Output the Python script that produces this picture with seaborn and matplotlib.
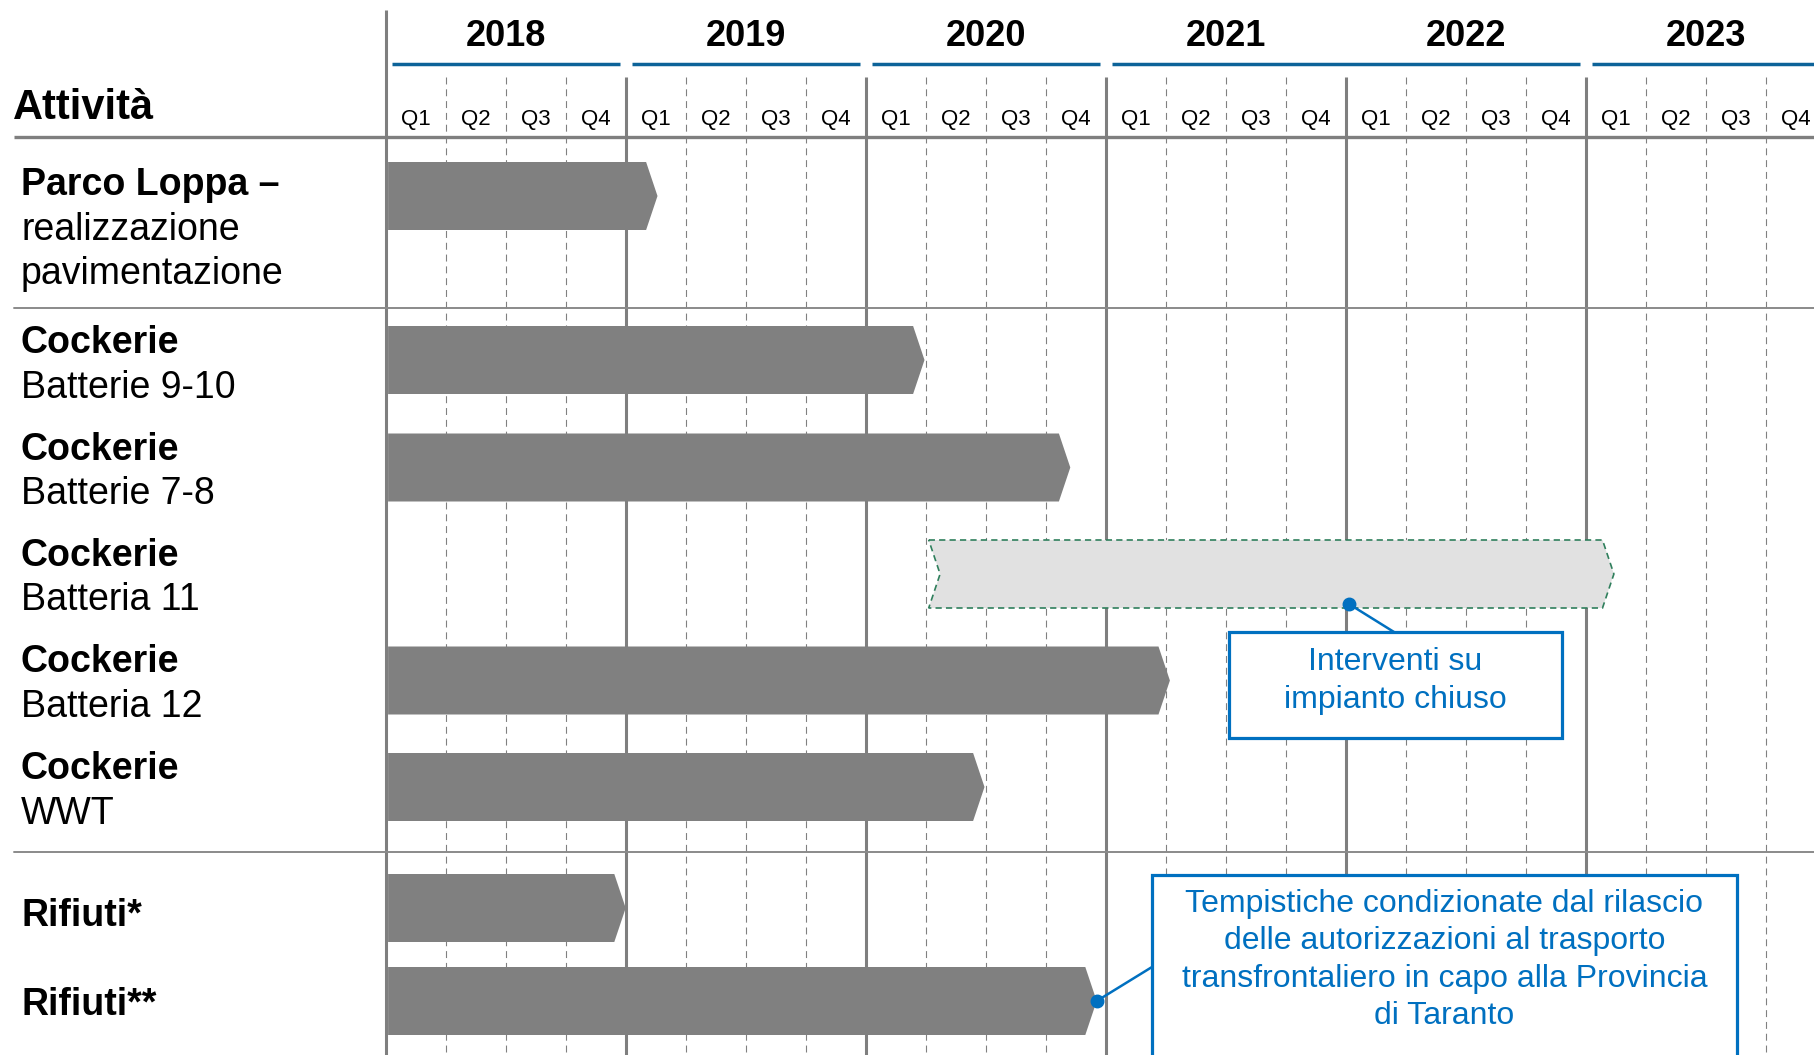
import numpy as np
import pandas as pd
import matplotlib.pyplot as plt
import seaborn as sns
from matplotlib.patches import Polygon, Rectangle

# %% data
years = ['2018', '2019', '2020', '2021', '2022', '2023']
quarters = ['Q1', 'Q2', 'Q3', 'Q4']

titles = ['Parco Loppa –', 'Cockerie', 'Cockerie', 'Cockerie',
          'Cockerie', 'Cockerie', 'Rifiuti*', 'Rifiuti**']
subtitles = ['realizzazione\npavimentazione', 'Batterie 9-10', 'Batterie 7-8',
             'Batteria 11', 'Batteria 12', 'WWT', '', '']
# quarters counted from the start of 2018 Q1
start_q = [0, 0, 0, 9.05, 0, 0, 0, 0]
end_q = [4.53, 8.98, 11.41, 20.47, 13.07, 9.98, 4.0, 11.85]
closed_plant = [False, False, False, True, False, False, False, False]

note_closed = 'Interventi su\nimpianto chiuso'
note_waste = ('Tempistiche condizionate dal rilascio\ndelle autorizzazioni al trasporto\n'
              'transfrontaliero in capo alla Provincia\ndi Taranto')

# %% layout (y in pixels from top, x in quarters)
W, H = 1814, 1055
X_ORIGIN, Q_PX = 385.7, 60.0
def px2q(px):
    return (px - X_ORIGIN) / Q_PX

row_y = [196, 360, 467.5, 574, 680.5, 787, 908, 1001]
label_y = [182, 340, 447, 553, 659.5, 766, 913, 1002]
BAR_H = 68
TIP = 0.19
LINE_PX = 44.5

GRAY = '#7f7f7f'
BLUE = '#0070c0'
YEAR_BLUE = '#0d6399'

sns.set_theme(style='white')
plt.rcParams['font.family'] = ['Liberation Sans', 'DejaVu Sans']
plt.rcParams['lines.scale_dashes'] = False

fig = plt.figure(figsize=(W / 100, H / 100), dpi=100, facecolor='white')
ax = fig.add_axes([0, 0, 1, 1])
ax.set_xlim(px2q(0), px2q(W))
ax.set_ylim(H, 0)
ax.axis('off')

n_q = len(years) * len(quarters)

# grid
ax.plot([0, 0], [10, H], color=GRAY, lw=2.2, zorder=1, solid_capstyle='butt')
for q in range(1, n_q):
    if q % 4 == 0:
        ax.plot([q, q], [77, H], color=GRAY, lw=2.2, zorder=1, solid_capstyle='butt')
    else:
        ax.plot([q, q], [77, H], color='#808080', lw=0.8, ls=(0, (5, 3.5)), zorder=1)

ax.plot([px2q(14), px2q(W)], [137, 137], color=GRAY, lw=2.4, zorder=2, solid_capstyle='butt')
for ys in [308, 851.5]:
    ax.plot([px2q(14), px2q(W)], [ys, ys], color='#8a8a8a', lw=1.4, zorder=2)

# year header
year_segments = [(0.1, 3.9), (4.1, 7.9), (8.1, 11.9), (12.1, 19.9), (20.1, 24.5)]
for a, b in year_segments:
    ax.plot([a, b], [64, 64], color=YEAR_BLUE, lw=2.5, solid_capstyle='butt', zorder=2)
for i, yr in enumerate(years):
    ax.text(i * 4 + 2, 46, yr, ha='center', va='baseline', fontsize=26, fontweight='bold', color='black')
    for j, ql in enumerate(quarters):
        ax.text(i * 4 + j + 0.5, 125, ql, ha='center', va='baseline', fontsize=16, color='black')

ax.text(px2q(13), 119, 'Attività', ha='left', va='baseline', fontsize=30, fontweight='bold', color='black')

# bars
for s, e, yc, closed in zip(start_q, end_q, row_y, closed_plant):
    top, bot = yc - BAR_H / 2, yc + BAR_H / 2
    if closed:
        pts = [(s, top), (e - TIP, top), (e, yc), (e - TIP, bot), (s, bot), (s + TIP, yc)]
        ax.add_patch(Polygon(pts, closed=True, facecolor='#e1e1e1', edgecolor='#2f7f5c',
                             lw=1.2, ls=(0, (4.5, 3)), zorder=3))
    else:
        pts = [(s + 0.04, top), (e - TIP, top), (e, yc), (e - TIP, bot), (s + 0.04, bot)]
        ax.add_patch(Polygon(pts, closed=True, facecolor='#808080', edgecolor='none', zorder=3))

# row labels
lx = px2q(21)
for t, sub, ly in zip(titles, subtitles, label_y):
    ax.text(lx, ly + 13, t, ha='left', va='baseline', fontsize=27, fontweight='bold', color='black')
    for k, line in enumerate(sub.split('\n') if sub else []):
        ax.text(lx, ly + LINE_PX * (k + 1) + 13, line, ha='left', va='baseline',
                fontsize=27, color='black')

# callout: closed plant
b1 = (px2q(1229), 632, px2q(1562), 738)
ax.add_patch(Rectangle((b1[0], b1[1]), b1[2] - b1[0], b1[3] - b1[1], facecolor='white',
                       edgecolor=BLUE, lw=2.3, zorder=4))
ax.text((b1[0] + b1[2]) / 2, 681, note_closed, ha='center', va='center', fontsize=23,
        color=BLUE, zorder=6, linespacing=1.32)
dot1 = (px2q(1349), row_y[3] + BAR_H / 2 - 4)
ax.plot([dot1[0], px2q(1394)], [dot1[1], 632], color=BLUE, lw=1.8, zorder=5)
ax.plot(*dot1, 'o', color=BLUE, ms=9, zorder=5)

# callout: waste transport
b2 = (px2q(1152), 875, px2q(1737), 1080)
ax.add_patch(Rectangle((b2[0], b2[1]), b2[2] - b2[0], b2[3] - b2[1], facecolor='white',
                       edgecolor=BLUE, lw=2.3, zorder=4))
ax.text((b2[0] + b2[2]) / 2, 960, note_waste, ha='center', va='center', fontsize=23,
        color=BLUE, zorder=6, linespacing=1.32)
dot2 = (end_q[7], row_y[7])
ax.plot([dot2[0], b2[0]], [dot2[1], 967], color=BLUE, lw=1.8, zorder=5)
ax.plot(*dot2, 'o', color=BLUE, ms=9, zorder=5)

plt.savefig('out.png', dpi=100, facecolor='white')
